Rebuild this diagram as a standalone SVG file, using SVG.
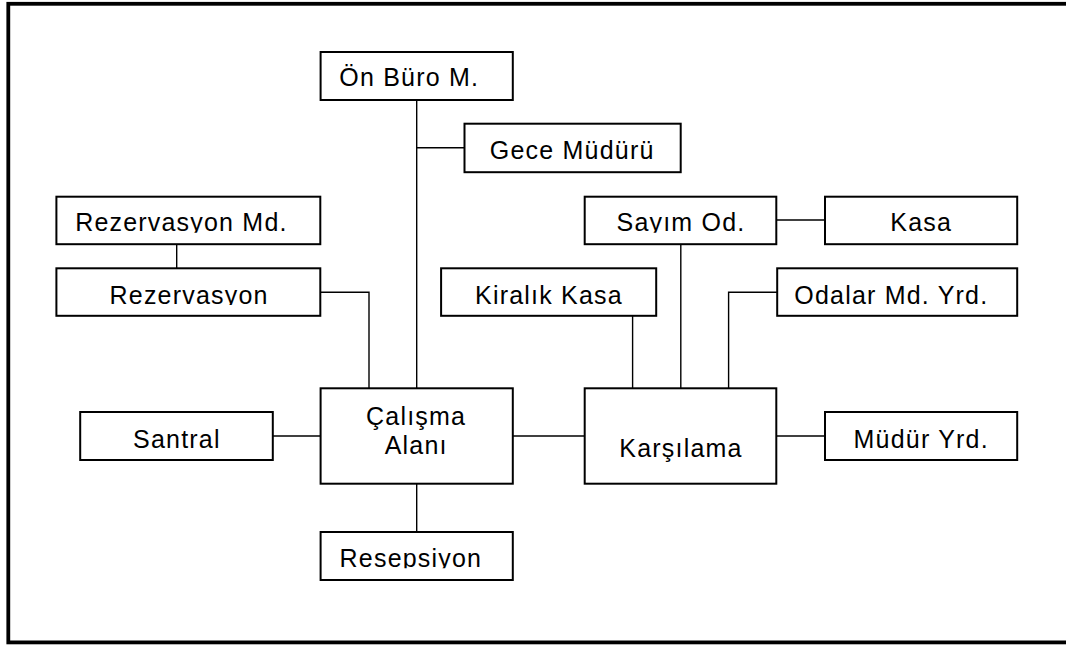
<svg xmlns="http://www.w3.org/2000/svg" width="1066" height="645" viewBox="0 0 1066 645">
<style>
.box{fill:#fff;stroke:#000;stroke-width:2}
.ln{fill:none;stroke:#000;stroke-width:1.4}
.t{font-family:"Liberation Sans",Arial,sans-serif;font-size:25px;fill:#000;text-anchor:middle;letter-spacing:1.2px}
</style>
<defs>
<clipPath id="cRowC" clipPathUnits="userSpaceOnUse"><rect x="0" y="196" width="1066" height="36.8"/></clipPath>
<clipPath id="cRowD" clipPathUnits="userSpaceOnUse"><rect x="0" y="268" width="1066" height="37"/></clipPath>
<clipPath id="cRes" clipPathUnits="userSpaceOnUse"><rect x="0" y="532" width="1066" height="36.3"/></clipPath>
</defs>
<rect x="0" y="0" width="1066" height="645" fill="#fff"/>
<rect id="frame" x="8.3" y="3.8" width="1080" height="638.6" fill="none" stroke="#000" stroke-width="3.8"/>
<g id="connectors">
<line class="ln" x1="416.7" y1="101" x2="416.7" y2="388"/>
<line class="ln" x1="416.7" y1="147.7" x2="464" y2="147.7"/>
<line class="ln" x1="176.7" y1="245" x2="176.7" y2="268"/>
<polyline class="ln" points="321,292.3 369,292.3 369,388"/>
<line class="ln" x1="273" y1="436" x2="320" y2="436"/>
<line class="ln" x1="513" y1="436" x2="584" y2="436"/>
<line class="ln" x1="416.7" y1="484" x2="416.7" y2="532"/>
<line class="ln" x1="632.6" y1="316" x2="632.6" y2="388"/>
<line class="ln" x1="680.8" y1="245" x2="680.8" y2="388"/>
<line class="ln" x1="776" y1="220" x2="825" y2="220"/>
<polyline class="ln" points="777,292.3 728.6,292.3 728.6,388"/>
<line class="ln" x1="776" y1="436" x2="825" y2="436"/>
</g>
<g id="onburo"><rect class="box" x="320.6" y="52" width="192.2" height="48"/><text class="t" x="409.2" y="86.3">Ön Büro M.</text></g>
<g id="gece"><rect class="box" x="464.5" y="123.7" width="216.2" height="48.5"/><text class="t" x="572.2" y="159">Gece Müdürü</text></g>
<g id="rezmd"><rect class="box" x="56.4" y="196.7" width="263.9" height="47.5"/><text class="t" x="181.4" y="231" clip-path="url(#cRowC)">Rezervasyon Md.</text></g>
<g id="sayim"><rect class="box" x="584.7" y="196.7" width="191.6" height="47.5"/><text class="t" x="681" y="231" clip-path="url(#cRowC)">Sayım Od.</text></g>
<g id="kasa"><rect class="box" x="825" y="196.7" width="192.2" height="47.5"/><text class="t" x="921.2" y="231">Kasa</text></g>
<g id="rez"><rect class="box" x="56.4" y="268.3" width="263.9" height="47.5"/><text class="t" x="189.1" y="303.5" clip-path="url(#cRowD)">Rezervasyon</text></g>
<g id="kiralik"><rect class="box" x="441.1" y="268.3" width="215.1" height="47.5"/><text class="t" x="549" y="303.5">Kiralık Kasa</text></g>
<g id="odalar"><rect class="box" x="777.2" y="268.3" width="240" height="47.5"/><text class="t" x="891.3" y="303.5">Odalar Md. Yrd.</text></g>
<g id="calisma"><rect class="box" x="320.6" y="388.3" width="192.2" height="95.4"/><text class="t" x="416.1" y="424.5">Çalışma</text><text class="t" x="416.2" y="453.5">Alanı</text></g>
<g id="karsilama"><rect class="box" x="584.7" y="388.3" width="191.6" height="95.4"/><text class="t" x="681" y="457">Karşılama</text></g>
<g id="santral"><rect class="box" x="80.2" y="412" width="192.6" height="48"/><text class="t" x="176.9" y="448.3">Santral</text></g>
<g id="mudur"><rect class="box" x="825" y="412" width="192.2" height="48"/><text class="t" x="921.2" y="448.3">Müdür Yrd.</text></g>
<g id="resepsiyon"><rect class="box" x="320.6" y="532" width="192.2" height="48"/><text class="t" x="410.9" y="566.5" clip-path="url(#cRes)">Resepsiyon</text></g>
</svg>
